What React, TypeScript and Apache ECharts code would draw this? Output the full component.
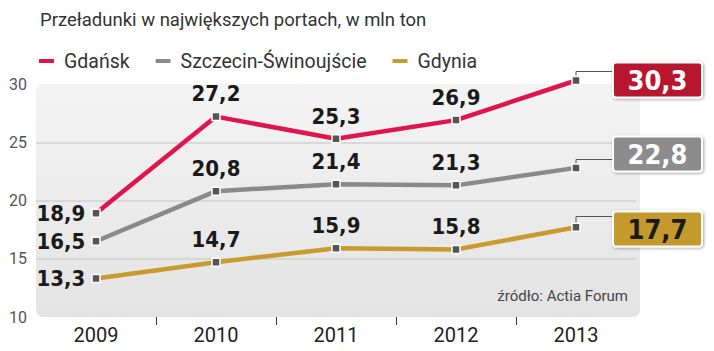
import React, { useEffect, useRef } from "react";
import * as echarts from "echarts";

const years = ["2009", "2010", "2011", "2012", "2013"];
const seriesNames = ["Gdańsk", "Szczecin-Świnoujście", "Gdynia"];
const gdansk = [18.9, 27.2, 25.3, 26.9, 30.3];
const szczecin = [16.5, 20.8, 21.4, 21.3, 22.8];
const gdynia = [13.3, 14.7, 15.9, 15.8, 17.7];
const colors = ["#e0154b", "#8a8a8a", "#c89a30"];
const boxColors = ["#b8122e", "#8c8c8c", "#c49a2e"];
const boxTextColors = ["#ffffff", "#ffffff", "#1a1a1a"];
const yTicks = [10, 15, 20, 25, 30];
const title = "Przeładunki w największych portach, w mln ton";
const source = "źródło: Actia Forum";

const fmt = (v: number) => v.toFixed(1).replace(".", ",");
const NUM_FONT = "'DejaVu Sans Condensed', sans-serif";

export default function App() {
  const ref = useRef<HTMLDivElement>(null);
  useEffect(() => {
    if (!ref.current) return;
    const chart = echarts.init(ref.current, undefined, { renderer: "svg" });
    const data = [gdansk, szczecin, gdynia];
    const grid = { left: 36, right: 78, top: 84, bottom: 34 };
    chart.setOption({
      animation: false,
      title: {
        text: title,
        left: 35,
        top: 5,
        textStyle: { fontFamily: "Roboto", fontSize: 18.5, fontWeight: "normal", color: "#333" },
      },
      legend: {
        left: 32,
        top: 46,
        icon: "roundRect",
        itemWidth: 17,
        itemHeight: 6,
        itemGap: 24,
        textStyle: { fontFamily: "Roboto", fontSize: 19.5, color: "#333", padding: [0, 0, 0, 4] },
        data: seriesNames.map((n, i) => ({ name: n, itemStyle: { color: colors[i] } })),
      },
      grid,
      xAxis: {
        type: "category",
        data: years,
        boundaryGap: true,
        axisLine: { show: false },
        axisTick: { show: false },
        axisLabel: { fontFamily: "Roboto", fontSize: 20, color: "#222", margin: 8 },
      },
      yAxis: {
        type: "value",
        min: yTicks[0],
        max: yTicks[yTicks.length - 1],
        interval: 5,
        axisLine: { show: false },
        axisTick: { show: false },
        axisLabel: { fontFamily: "Roboto", fontSize: 16, color: "#555", align: "left", margin: 27 },
        splitLine: {
          show: true,
          lineStyle: { color: ["transparent", "#d2d2d2", "#d2d2d2", "#d2d2d2", "transparent"], width: 1.5 },
        },
      },
      series: seriesNames.map((name, si) => ({
        name,
        type: "line",
        clip: false,
        data: data[si].map((v, i) => ({
          value: v,
          label: {
            show: i < data[si].length - 1,
            position: i === 0 ? "left" : "top",
            distance: i === 0 ? 6 : 7,
          },
        })),
        z: 3,
        color: colors[si],
        lineStyle: { color: colors[si], width: 4.5 },
        symbol: "rect",
        symbolSize: 8,
        itemStyle: { color: "#555", borderColor: "#fff", borderWidth: 1.5 },
        label: {
          formatter: (p: any) => fmt(p.value),
          fontFamily: NUM_FONT,
          fontWeight: "bold",
          fontSize: 22,
          color: "#1a1a1a",
        },
      })),
    });

    const boxLayout = [
      { up: 10, topFromLine: 9 },
      { up: 9, topFromLine: 23 },
      { up: 11, topFromLine: 5 },
    ];
    const conv = (x: number, y: number) =>
      chart.convertToPixel({ xAxisIndex: 0, yAxisIndex: 0 } as any, [x, y]) as number[];
    const g0 = conv(0, yTicks[yTicks.length - 1]);
    const g1 = conv(0, yTicks[0]);
    const w = chart.getWidth();
    const plotLeft = grid.left;
    const plotRight = w - grid.right;
    const graphics: any[] = [
      {
        type: "rect",
        z: -10,
        silent: true,
        shape: { x: plotLeft, y: g0[1], width: plotRight - plotLeft + 4, height: g1[1] - g0[1], r: 7 },
        style: {
          fill: new echarts.graphic.LinearGradient(0, 0, 0, 1, [
            { offset: 0, color: "#f4f4f4" },
            { offset: 1, color: "#e3e3e3" },
          ]),
        },
      },
      {
        type: "text",
        right: w - plotRight + 8,
        top: g1[1] - 29,
        style: { text: source, fontFamily: "Roboto", fontSize: 15, fill: "#444", textAlign: "right" },
      },
    ];
    for (let i = 0; i < years.length - 1; i++) {
      const a = conv(i, yTicks[0]);
      const b = conv(i + 1, yTicks[0]);
      const x = Math.round((a[0] + b[0]) / 2) + 0.5;
      graphics.push({
        type: "line",
        shape: { x1: x, y1: a[1], x2: x, y2: a[1] + 8 },
        style: { stroke: "#333", lineWidth: 1 },
      });
    }
    const boxX = plotRight - 23;
    data.forEach((arr, si) => {
      const last = arr.length - 1;
      const p = conv(last, arr[last]);
      const ly = Math.round(p[1] - boxLayout[si].up) + 0.5;
      const top = ly - boxLayout[si].topFromLine;
      graphics.push({
        type: "polyline",
        z: 1,
        shape: { points: [[p[0], p[1]], [p[0], ly], [boxX, ly]] },
        style: { stroke: "#555", lineWidth: 1, fill: null },
      });
      graphics.push({
        type: "rect",
        z: 5,
        shape: { x: boxX, y: top, width: 89, height: 35, r: 3 },
        style: {
          fill: boxColors[si],
          stroke: "#fff",
          lineWidth: 2,
          shadowBlur: 3,
          shadowColor: "rgba(0,0,0,0.35)",
          shadowOffsetX: 1,
          shadowOffsetY: 1,
        },
      });
      graphics.push({
        type: "text",
        z: 6,
        x: boxX + 44.5,
        y: top + 18,
        style: {
          text: fmt(arr[last]),
          fontFamily: NUM_FONT,
          fontWeight: "bold",
          fontSize: 27,
          fill: boxTextColors[si],
          textAlign: "center",
          textVerticalAlign: "middle",
        },
      });
    });
    chart.setOption({ graphic: graphics });
    return () => chart.dispose();
  }, []);
  return <div ref={ref} style={{ width: 714, height: 351, position: "absolute", left: 0, top: 0 }} />;
}
